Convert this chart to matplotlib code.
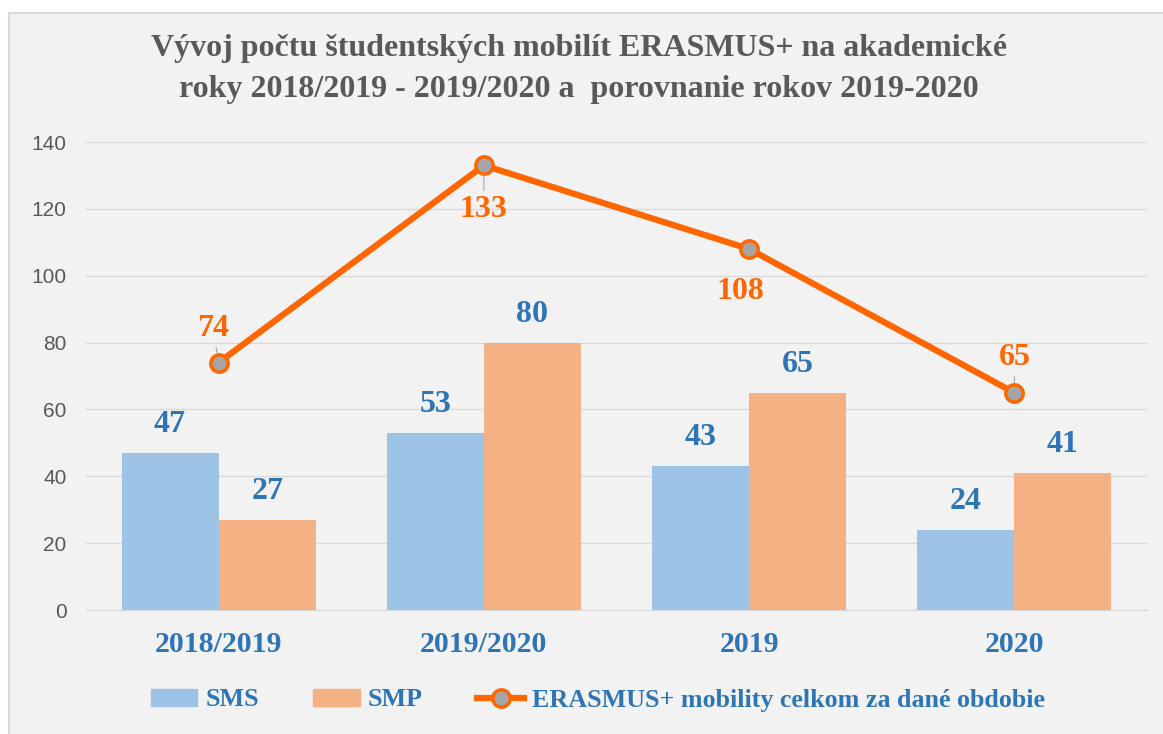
import numpy as np
import matplotlib.pyplot as plt
import matplotlib.patches as mpatches
from matplotlib.lines import Line2D

# data
categories = ["2018/2019", "2019/2020", "2019", "2020"]
sms = [47, 53, 43, 24]
smp = [27, 80, 65, 41]
total = [74, 133, 108, 65]
yticks = [0, 20, 40, 60, 80, 100, 120, 140]

title = ("Vývoj počtu študentských mobilít ERASMUS+ na akademické\n"
         "roky 2018/2019 - 2019/2020 a  porovnanie rokov 2019-2020")

c_sms = "#9DC3E6"
c_smp = "#F4B183"
c_line = "#FF6600"
c_blue = "#2E75B6"
c_gray = "#595959"
bg = "#F2F2F2"
serif = "Liberation Serif"

fig = plt.figure(figsize=(11.63, 7.34), dpi=100)
fig.patch.set_facecolor("white")
# chart frame
fig.patches.append(mpatches.Rectangle((9 / 1163, -0.01), 1.02, 1 - 13 / 734 + 0.01,
                                      transform=fig.transFigure, facecolor=bg,
                                      edgecolor="#D9D9D9", linewidth=1.5, zorder=-10))

ax = fig.add_axes([86 / 1163, 1 - 610 / 734, (1147 - 86) / 1163, (610 - 142) / 734])
ax.patch.set_alpha(0)

x = np.arange(len(categories))
w = 0.366
ax.bar(x - w / 2, sms, w, color=c_sms, label="SMS", zorder=2)
ax.bar(x + w / 2, smp, w, color=c_smp, label="SMP", zorder=2)
ax.plot(x, total, color=c_line, lw=4.5, marker="o", ms=12.5, mfc="#A5A5A5",
        mec=c_line, mew=2.5, zorder=4, label="ERASMUS+ mobility celkom za dané obdobie")

ax.set_xlim(-0.5, len(categories) - 0.5)
ax.set_ylim(0, 140)
ax.set_yticks(yticks)
ax.yaxis.grid(True, color="#D9D9D9", lw=1)
ax.set_axisbelow(True)
for s in ["top", "right", "left"]:
    ax.spines[s].set_visible(False)
ax.spines["bottom"].set_color("#D9D9D9")
ax.tick_params(axis="both", length=0)
ax.tick_params(axis="y", pad=14, labelsize=15, labelcolor=c_gray)
for t in ax.get_yticklabels():
    t.set_family("Liberation Sans")
ax.set_xticks(x)
ax.set_xticklabels(categories, family=serif, fontweight="bold", fontsize=21.5, color=c_blue)
ax.tick_params(axis="x", pad=15)

# bar labels
for i in range(len(categories)):
    ax.annotate(str(sms[i]), (x[i] - w / 2, sms[i]), xytext=(0, 10), textcoords="offset points",
                ha="center", va="bottom", family=serif, fontweight="bold", fontsize=23, color=c_blue)
    ax.annotate(str(smp[i]), (x[i] + w / 2, smp[i]), xytext=(0, 10), textcoords="offset points",
                ha="center", va="bottom", family=serif, fontweight="bold", fontsize=23, color=c_blue)

# line labels (above for first/last, below for middle), with leader lines
offsets = [(-4, 14), (0, -21), (-6, -20), (0, 15)]
leaders = [True, True, False, True]
for i in range(len(categories)):
    dx, dy = offsets[i]
    arrow = None
    if leaders[i]:
        arrow = dict(arrowstyle="-", color="#A6A6A6", lw=0.8, shrinkA=1, shrinkB=7)
    ax.annotate(str(total[i]), (x[i], total[i]), xytext=(dx, dy), textcoords="offset points",
                ha="center", va="bottom" if dy > 0 else "top", family=serif,
                fontweight="bold", fontsize=23, color=c_line, zorder=5, arrowprops=arrow)

fig.text(0.498, 1 - 69 / 734, title, ha="center", va="center", family=serif,
         fontweight="bold", fontsize=23, color=c_gray, linespacing=1.55)

handles = [mpatches.Patch(color=c_sms, label="SMS"),
           mpatches.Patch(color=c_smp, label="SMP"),
           Line2D([], [], color=c_line, lw=4.5, marker="o", ms=12.5, mfc="#A5A5A5", mec=c_line,
                  mew=2.5, label="ERASMUS+ mobility celkom za dané obdobie")]
leg = fig.legend(handles=handles, loc="center", bbox_to_anchor=(0.514, 1 - 700 / 734), ncol=3,
                 frameon=False, handlelength=1.8, handleheight=0.6, handletextpad=0.3,
                 columnspacing=2.1, prop={"family": serif, "weight": "bold", "size": 18.7})
for t in leg.get_texts():
    t.set_color(c_blue)

fig.savefig("out.png", dpi=100)
